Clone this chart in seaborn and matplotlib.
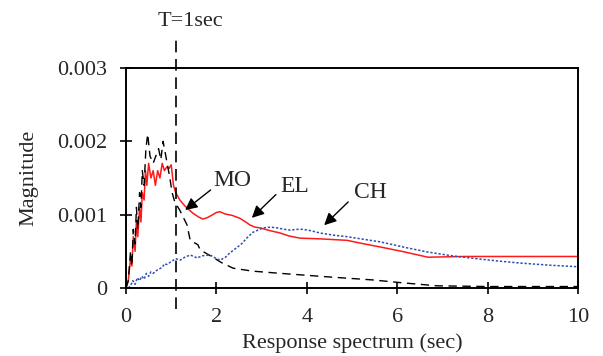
import matplotlib
matplotlib.use("Agg")
import matplotlib.pyplot as plt
import seaborn as sns
import pandas as pd

# EL (red, solid)
el_x = [0, 0.05, 0.1, 0.13, 0.16, 0.2, 0.23, 0.26, 0.3, 0.33, 0.36, 0.4, 0.43, 0.46, 0.5, 0.55,
        0.6, 0.65, 0.7, 0.75, 0.8, 0.85, 0.9, 0.95, 1.0, 1.05, 1.1, 1.19, 1.3, 1.48, 1.6, 1.7,
        1.8, 1.92, 2.0, 2.08, 2.19, 2.35, 2.52, 2.65, 2.74, 2.85, 2.96, 3.2, 3.41, 3.6, 3.85,
        4.3, 4.89, 5.2, 5.62, 6.1, 6.68, 7.5, 8.5, 10.0]
el_y = [0, 0.0001, 0.0004, 0.0003, 0.0007, 0.0005, 0.0009, 0.0007, 0.0011, 0.0009, 0.0013,
        0.0012, 0.0016, 0.0014, 0.0017, 0.0015, 0.0016, 0.0014, 0.0016, 0.0015, 0.0017, 0.0016,
        0.00165, 0.00163, 0.00168, 0.0014, 0.0013, 0.0012, 0.00112, 0.00102, 0.00097, 0.00094,
        0.00096, 0.001, 0.00103, 0.00104, 0.00101, 0.00099, 0.00095, 0.0009, 0.00086, 0.00083,
        0.00082, 0.00078, 0.00075, 0.00071, 0.00068, 0.00067, 0.00065, 0.00061, 0.00056,
        0.0005, 0.00042, 0.00043, 0.00043, 0.00043]

# MO (black, dashed)
mo_x = [0, 0.05, 0.1, 0.13, 0.16, 0.2, 0.23, 0.26, 0.3, 0.33, 0.36, 0.4, 0.44, 0.48, 0.53,
        0.6, 0.66, 0.72, 0.77, 0.82, 0.88, 0.97, 1.02, 1.08, 1.19, 1.35, 1.42, 1.59, 1.64,
        1.92, 2.1, 2.37, 2.8, 3.41, 4.51, 5.46, 6.13, 6.88, 8.0, 10.0]
mo_y = [0, 0.0001, 0.0005, 0.0003, 0.0008, 0.0006, 0.0011, 0.0008, 0.0013, 0.0011, 0.0016,
        0.0014, 0.0019, 0.0021, 0.0018, 0.0017, 0.0018, 0.0019, 0.00175, 0.002, 0.0018,
        0.0015, 0.0013, 0.00117, 0.00106, 0.00086, 0.00065, 0.00059, 0.00052, 0.00042,
        0.00035, 0.00027, 0.00023, 0.0002, 0.00015, 0.00011, 0.00007, 0.00003, 0.00002,
        0.00002]

# CH (blue, dotted)
ch_x = [0.05, 0.1, 0.15, 0.2, 0.25, 0.3, 0.35, 0.4, 0.45, 0.5, 0.55, 0.6, 0.7, 0.8, 0.85,
        0.9, 1.0, 1.1, 1.2, 1.3, 1.42, 1.5, 1.57, 1.7, 1.86, 2.0, 2.08, 2.2, 2.3, 2.45, 2.57,
        2.7, 2.81, 3.03, 3.2, 3.34, 3.5, 3.63, 3.8, 3.92, 4.1, 4.29, 4.6, 4.89, 5.3, 5.62,
        6.2, 6.68, 7.2, 7.61, 8.2, 8.72, 9.4, 10.0]
ch_y = [0, 0.00003, 0.0001, 0.00005, 0.00014, 0.0001, 0.00016, 0.00012, 0.0002, 0.00016,
        0.00022, 0.0002, 0.00025, 0.00028, 0.00033, 0.00032, 0.00036, 0.0004, 0.00038,
        0.00042, 0.00045, 0.00043, 0.00041, 0.00044, 0.00045, 0.0004, 0.00038, 0.00042,
        0.00048, 0.00055, 0.00061, 0.0007, 0.00076, 0.00082, 0.00083, 0.00082, 0.0008,
        0.00079, 0.0008, 0.0008, 0.00078, 0.00075, 0.00072, 0.0007, 0.00066, 0.00063,
        0.00055, 0.00049, 0.00044, 0.00041, 0.00037, 0.00034, 0.00031, 0.00029]

x_ticks = [0, 2, 4, 6, 8, 10]
y_ticks = [0, 0.001, 0.002, 0.003]
y_tick_labels = ["0", "0.001", "0.002", "0.003"]

sns.set_style("white")
plt.rcParams["font.family"] = ["Liberation Serif", "DejaVu Serif"]
plt.rcParams["font.size"] = 16

fig = plt.figure(figsize=(6.03, 3.56), dpi=100)
ax = fig.add_axes([0.209, 0.191, 0.7495, 0.618])

sns.lineplot(x=el_x, y=el_y, ax=ax, color="#ff1a1a", linewidth=1.1)
sns.lineplot(x=mo_x, y=mo_y, ax=ax, color="black", linewidth=1.0, linestyle=(0, (6, 4)))
sns.lineplot(x=ch_x, y=ch_y, ax=ax, color="#2f4fb0", linewidth=1.1, linestyle=(0, (1.5, 1.2)))

ax.set_xlim(0, 10)
ax.set_ylim(0, 0.003)
ax.set_xticks(x_ticks)
ax.set_xticklabels([str(t) for t in x_ticks])
ax.set_yticks(y_ticks)
ax.set_yticklabels(y_tick_labels)
ax.tick_params(axis="both", direction="inout", length=8.5, width=1.2, labelsize=16,
               bottom=True, left=True, color="black")
ax.tick_params(axis="y", pad=9)
ax.tick_params(axis="x", pad=10)
for s in ax.spines.values():
    s.set_color("black")
    s.set_linewidth(1.4)

ax.set_xlabel("Response spectrum (sec)", fontsize=16, labelpad=5)
ax.set_ylabel("Magnitude", fontsize=16, labelpad=14)

# T=1sec vertical dashed line extending above and below axes
ax.plot([1.1, 1.1], [-0.00028, 0.00341], color="black", linewidth=1.2,
        linestyle=(0, (7, 4)), clip_on=False)
ax.text(1.43, 0.00363, "T=1sec", fontsize=16, ha="center", va="center")

arrow = dict(arrowstyle="-|>", color="black", lw=1.0, mutation_scale=18)
ax.annotate("", xy=(1.26, 0.00104), xytext=(1.92, 0.00136), arrowprops=arrow)
ax.text(2.35, 0.00147, "MO", fontsize=17, ha="center", va="center")
ax.annotate("", xy=(2.74, 0.00093), xytext=(3.36, 0.0013), arrowprops=arrow)
ax.text(3.74, 0.00139, "EL", fontsize=17, ha="center", va="center")
ax.annotate("", xy=(4.34, 0.00083), xytext=(4.96, 0.0012), arrowprops=arrow)
ax.text(5.4, 0.0013, "CH", fontsize=17, ha="center", va="center")

fig.savefig("out.png", dpi=100)
